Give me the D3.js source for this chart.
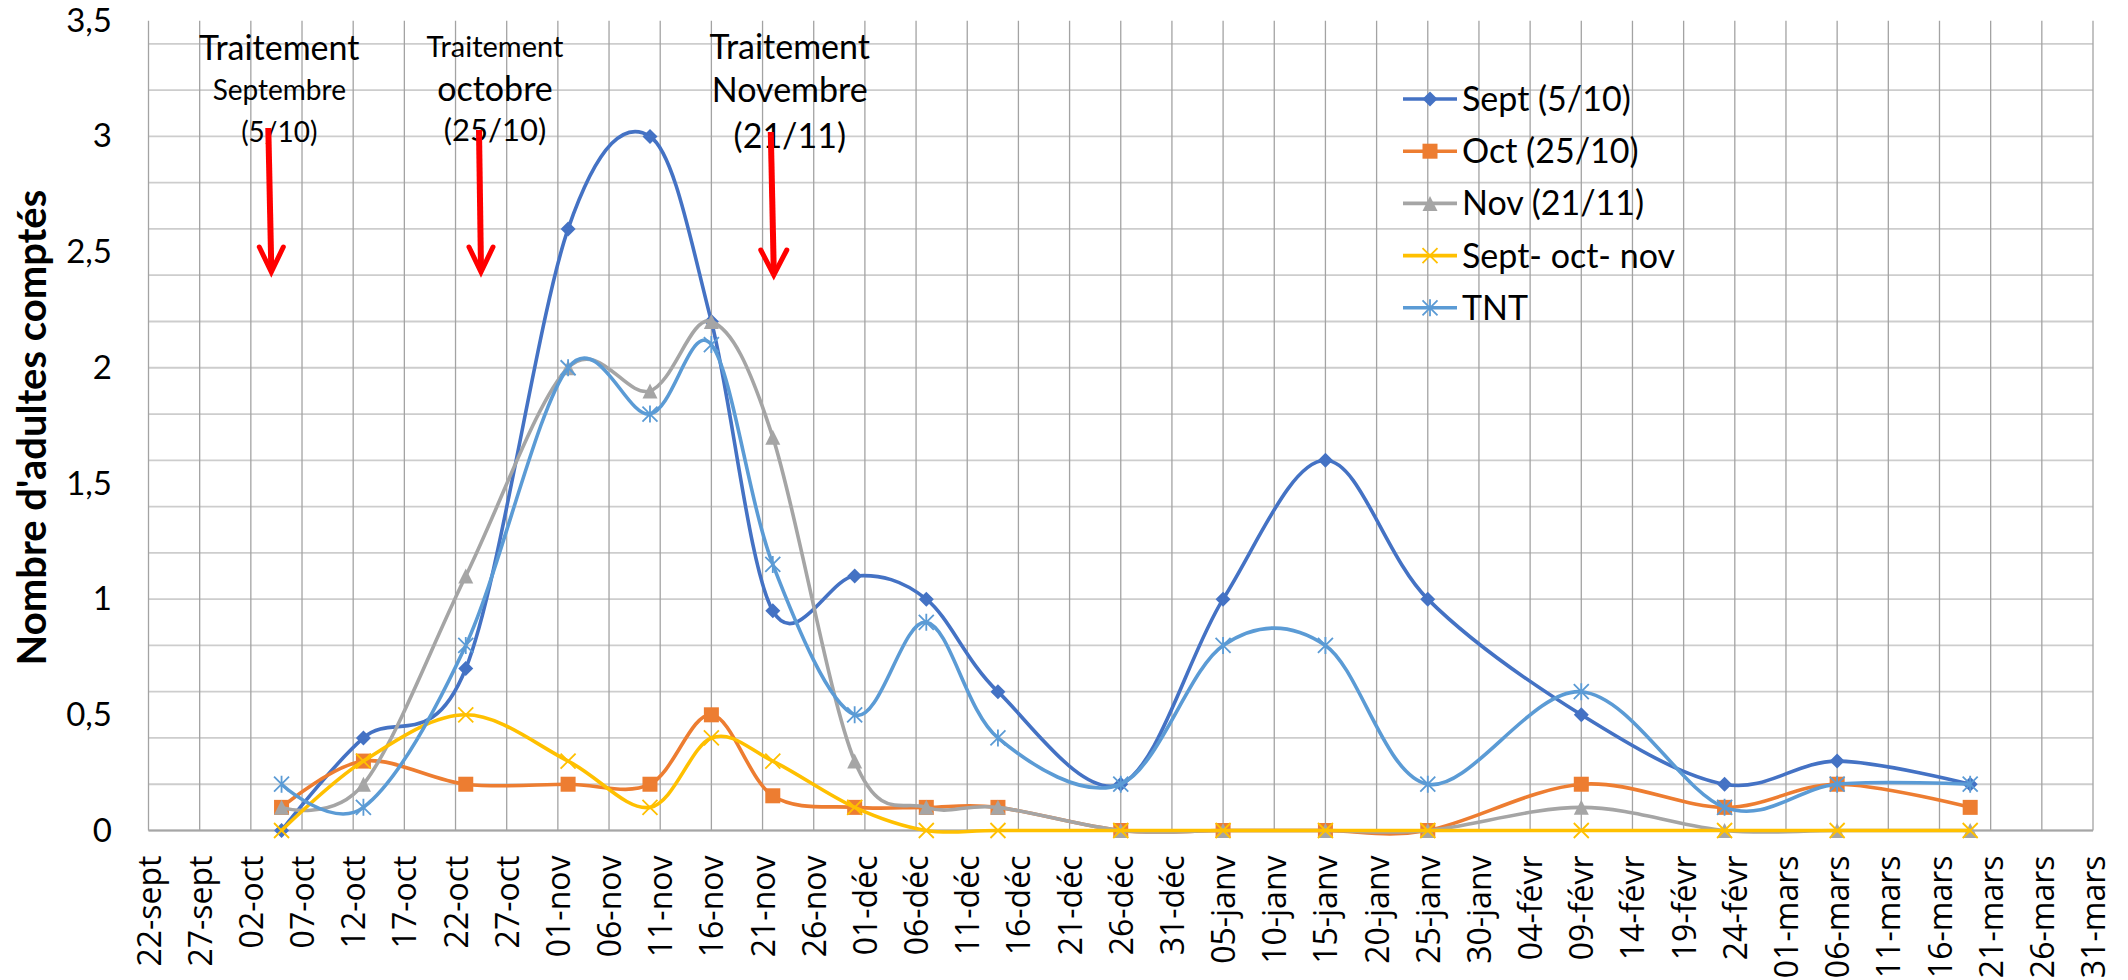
<!DOCTYPE html>
<html>
<head>
<meta charset="utf-8">
<script src="https://cdn.jsdelivr.net/npm/d3@7"></script>
<style>
  html, body { margin: 0; padding: 0; background: #ffffff; }
  svg { display: block; }
</style>
</head>
<body>
<svg id="chart" width="2128" height="980"></svg>
<script>
// ---------------- DATA ----------------
const sampleDates = ["2018-10-05","2018-10-13","2018-10-23","2018-11-02","2018-11-10","2018-11-16",
  "2018-11-22","2018-11-30","2018-12-07","2018-12-14","2018-12-26","2019-01-05","2019-01-15",
  "2019-01-25","2019-02-09","2019-02-23","2019-03-06","2019-03-19"];

const septValues      = [0, 0.4, 0.7, 2.6, 3.0, 2.2, 0.95, 1.1, 1.0, 0.6, 0.2, 1.0, 1.6, 1.0, 0.5, 0.2, 0.3, 0.2];
const octValues       = [0.1, 0.3, 0.2, 0.2, 0.2, 0.5, 0.15, 0.1, 0.1, 0.1, 0, 0, 0, 0, 0.2, 0.1, 0.2, 0.1];
const novValues       = [0.1, 0.2, 1.1, 2.0, 1.9, 2.2, 1.7, 0.3, 0.1, 0.1, 0, 0, 0, 0, 0.1, 0, 0, 0];
const septOctNovValues= [0, 0.3, 0.5, 0.3, 0.1, 0.4, 0.3, 0.1, 0, 0, 0, 0, 0, 0, 0, 0, 0, 0];
const tntValues       = [0.2, 0.1, 0.8, 2.0, 1.8, 2.1, 1.15, 0.5, 0.9, 0.4, 0.2, 0.8, 0.8, 0.2, 0.6, 0.1, 0.2, 0.2];

const seriesNames   = ["Sept (5/10)", "Oct (25/10)", "Nov (21/11)", "Sept- oct- nov", "TNT"];
const seriesColors  = ["#4472C4", "#ED7D31", "#A5A5A5", "#FFC000", "#5B9BD5"];
const seriesMarkers = ["diamond", "square", "triangle", "x", "star"];
const seriesValues  = [septValues, octValues, novValues, septOctNovValues, tntValues];

const xStart = "2018-09-22", xEnd = "2019-03-31";     // axis range
const xTickStepDays = 5;
const yTickLabelsValues = [0, 0.5, 1, 1.5, 2, 2.5, 3, 3.5];
const yMax = 3.5;
const yTitle = "Nombre d'adultes comptés";
const frenchShortMonths = ["janv","févr","mars","avr","mai","juin","juil","août","sept","oct","nov","déc"];

// Treatment annotations: anchor date, text lines
const annotationDates = ["2018-10-04", "2018-10-24", "2018-11-22"];
const annotationLines = [
  ["Traitement", "Septembre", "(5/10)"],
  ["Traitement", "octobre", "(25/10)"],
  ["Traitement", "Novembre", "(21/11)"]
];

// ---------------- LAYOUT ----------------
const plot = { left: 148.5, right: 2093, top: 20.7, bottom: 830.5 };
const annLayout = [
  { dx: 8,  sizes: [34, 28, 28], ys: [60, 100, 142], arrow: { topDx: -3, tipDx: 0, top: 128, tip: 272, wingY: 247, wingW: 12 } },
  { dx: 19, sizes: [29, 34, 31], ys: [57, 101, 141], arrow: { topDx: 3,  tipDx: 5, top: 130, tip: 272, wingY: 247, wingW: 12 } },
  { dx: 17, sizes: [34, 34, 34], ys: [59, 102, 148], arrow: { topDx: -2, tipDx: 1, top: 132, tip: 275, wingY: 250, wingW: 13 } }
];
const calibriLike = "Lato, 'Liberation Sans', sans-serif";

const parse = d3.utcParse("%Y-%m-%d");
const frLocale = d3.timeFormatLocale({
  dateTime: "%A %e %B %Y à %X", date: "%d/%m/%Y", time: "%H:%M:%S", periods: ["AM","PM"],
  days: ["dimanche","lundi","mardi","mercredi","jeudi","vendredi","samedi"],
  shortDays: ["dim.","lun.","mar.","mer.","jeu.","ven.","sam."],
  months: ["janvier","février","mars","avril","mai","juin","juillet","août","septembre","octobre","novembre","décembre"],
  shortMonths: frenchShortMonths
});
const fmtDate = frLocale.utcFormat("%d-%b");
const numLocale = d3.formatLocale({ decimal: ",", thousands: " ", grouping: [3], currency: ["", " €"] });
const fmtNum = numLocale.format(".1~f");

const svg = d3.select("#chart");
svg.append("rect").attr("width", 2128).attr("height", 980).attr("fill", "#fff");

const x = d3.scaleUtc().domain([parse(xStart), parse(xEnd)]).range([plot.left, plot.right]);
const y = d3.scaleLinear().domain([0, yMax]).range([plot.bottom, plot.top]);

const xTicks = d3.utcDay.range(parse(xStart), d3.utcDay.offset(parse(xEnd), 1), xTickStepDays);

// ---------------- GRID ----------------
const grid = svg.append("g");
grid.selectAll("line.h").data(y.ticks(14)).join("line")
  .attr("x1", plot.left).attr("x2", plot.right)
  .attr("y1", d => y(d)).attr("y2", d => y(d))
  .attr("stroke", "#CDCDCD").attr("stroke-width", 1.8);
grid.selectAll("line.v").data(xTicks).join("line")
  .attr("x1", d => x(d)).attr("x2", d => x(d))
  .attr("y1", plot.top).attr("y2", plot.bottom)
  .attr("stroke", "#A3A3A3").attr("stroke-width", 1.3);
svg.append("line").attr("x1", plot.left).attr("x2", plot.right)
  .attr("y1", y(0)).attr("y2", y(0)).attr("stroke", "#A6A6A6").attr("stroke-width", 2);

// ---------------- AXES ----------------
const xAxis = svg.append("g").attr("transform", `translate(0,${y(0)})`)
  .call(d3.axisBottom(x).tickValues(xTicks).tickFormat(fmtDate).tickSize(0));
xAxis.select(".domain").remove();
xAxis.selectAll("text")
  .attr("transform", "rotate(-90)")
  .attr("x", -25).attr("y", 0).attr("dy", "0.36em")
  .attr("text-anchor", "end")
  .style("font-family", "'Open Sans', sans-serif").style("font-size", "32px").attr("fill", "#000");

const yAxis = svg.append("g").attr("transform", `translate(${plot.left},0)`)
  .call(d3.axisLeft(y).tickValues(yTickLabelsValues).tickFormat(fmtNum).tickSize(0).tickPadding(36.5));
yAxis.select(".domain").remove();
yAxis.selectAll("text")
  .style("font-family", calibriLike).style("font-size", "33px").attr("fill", "#000");

svg.append("text")
  .attr("transform", `translate(46,${(plot.top + plot.bottom) / 2 + 2}) rotate(-90)`)
  .attr("text-anchor", "middle")
  .style("font-family", calibriLike).style("font-size", "40px").style("font-weight", "bold")
  .text(yTitle);

// ---------------- MARKERS ----------------
function drawMarker(g, type, color) {
  const s = 7.5;
  if (type === "diamond") {
    g.append("path").attr("d", `M0,${-s}L${s},0L0,${s}L${-s},0Z`).attr("fill", color);
  } else if (type === "square") {
    g.append("rect").attr("x", -s).attr("y", -s).attr("width", 2 * s).attr("height", 2 * s).attr("fill", color);
  } else if (type === "triangle") {
    g.append("path").attr("d", `M0,${-s}L${s},${s}L${-s},${s}Z`).attr("fill", color);
  } else if (type === "x") {
    g.append("path").attr("d", `M${-s},${-s}L${s},${s}M${-s},${s}L${s},${-s}`)
      .attr("stroke", color).attr("stroke-width", 1.8).attr("fill", "none");
  } else if (type === "star") {
    g.append("path").attr("d", `M${-s},${-s}L${s},${s}M${-s},${s}L${s},${-s}M0,${-s - 1}L0,${s + 1}`)
      .attr("stroke", color).attr("stroke-width", 1.8).attr("fill", "none");
  }
}

// ---------------- SERIES ----------------
const line = d3.line().x(d => x(d.date)).y(d => y(d.value)).curve(d3.curveCardinal.tension(0));
seriesValues.forEach((vals, i) => {
  const pts = sampleDates.map((d, j) => ({ date: parse(d), value: vals[j] }));
  const g = svg.append("g");
  g.append("path").datum(pts).attr("d", line)
    .attr("fill", "none").attr("stroke", seriesColors[i]).attr("stroke-width", 3.6)
    .attr("stroke-linejoin", "round");
  pts.forEach(p => {
    const mg = g.append("g").attr("transform", `translate(${x(p.date)},${y(p.value)})`);
    drawMarker(mg, seriesMarkers[i], seriesColors[i]);
  });
});

// ---------------- ANNOTATIONS ----------------
annotationDates.forEach((d, i) => {
  const cx = x(parse(d));
  const L = annLayout[i];
  annotationLines[i].forEach((t, k) => {
    svg.append("text").attr("x", cx + L.dx).attr("y", L.ys[k]).attr("text-anchor", "middle")
      .style("font-family", calibriLike).style("font-size", L.sizes[k] + "px").attr("fill", "#000")
      .text(t);
  });
  const a = L.arrow;
  const tipX = cx + a.tipDx;
  svg.append("path")
    .attr("d", `M${cx + a.topDx},${a.top}L${tipX},${a.tip - 3}`)
    .attr("stroke", "#FF0000").attr("stroke-width", 6).attr("fill", "none");
  svg.append("path")
    .attr("d", `M${tipX - a.wingW},${a.wingY}L${tipX},${a.tip}L${tipX + a.wingW},${a.wingY}`)
    .attr("stroke", "#FF0000").attr("stroke-width", 5).attr("fill", "none")
    .attr("stroke-linejoin", "miter").attr("stroke-linecap", "round");
});

// ---------------- LEGEND ----------------
const legend = { x1: 1403, x2: 1457, mx: 1430, tx: 1462, y0: 99, dy: 52.2 };
seriesNames.forEach((name, i) => {
  const yy = legend.y0 + i * legend.dy;
  const g = svg.append("g");
  g.append("line").attr("x1", legend.x1).attr("x2", legend.x2).attr("y1", yy).attr("y2", yy)
    .attr("stroke", seriesColors[i]).attr("stroke-width", 3.6);
  const mg = g.append("g").attr("transform", `translate(${legend.mx},${yy})`);
  drawMarker(mg, seriesMarkers[i], seriesColors[i]);
  g.append("text").attr("x", legend.tx).attr("y", yy).attr("dy", "0.35em")
    .style("font-family", calibriLike).style("font-size", "34px").attr("fill", "#000")
    .text(name);
});
</script>
</body>
</html>
